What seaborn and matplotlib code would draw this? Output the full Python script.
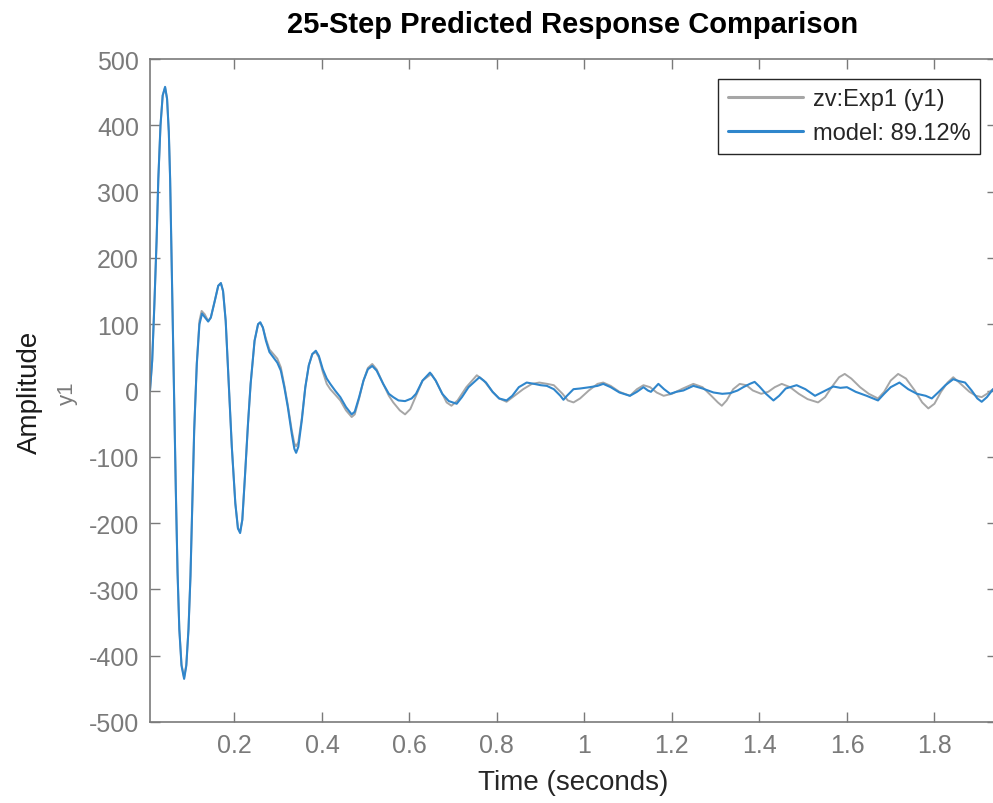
import matplotlib
matplotlib.use("Agg")
import matplotlib.pyplot as plt
import seaborn as sns
import pandas as pd

# valores (tiempo en s, amplitud)
zv_points = [
    (0.007, 0), (0.012, 45), (0.017, 130), (0.022, 225), (0.026, 319), (0.031, 400),
    (0.036, 445), (0.0415, 457), (0.046, 440), (0.050, 390), (0.053, 319), (0.058, 140),
    (0.062, 0), (0.066, -150), (0.070, -275), (0.074, -360), (0.079, -413), (0.085, -433),
    (0.090, -413), (0.095, -360), (0.0995, -280), (0.104, -160), (0.108, -60), (0.114, 42),
    (0.120, 105), (0.125, 120), (0.132, 115),
    (0.140, 105), (0.146, 110), (0.155, 135), (0.163, 158), (0.169, 162), (0.174, 150),
    (0.180, 105), (0.187, 10), (0.194, -85), (0.202, -170), (0.208, -208), (0.213, -213),
    (0.218, -195), (0.224, -130), (0.231, -50), (0.237, 10), (0.246, 75), (0.254, 100),
    (0.259, 102), (0.265, 95), (0.272, 78), (0.280, 62), (0.289, 55), (0.298, 48),
    (0.306, 35), (0.314, 8), (0.322, -22), (0.331, -60), (0.337, -80), (0.341, -84),
    (0.346, -78), (0.354, -42), (0.362, 5), (0.370, 38), (0.378, 55), (0.386, 58),
    (0.393, 50), (0.402, 28), (0.411, 10), (0.419, 2), (0.430, -6), (0.442, -15),
    (0.455, -30), (0.468, -40), (0.475, -36), (0.485, -12), (0.495, 15), (0.505, 34),
    (0.515, 40), (0.525, 32), (0.540, 10), (0.553, -8), (0.563, -18), (0.578, -30),
    (0.590, -36), (0.602, -28), (0.615, -8), (0.630, 15), (0.650, 25), (0.660, 15),
    (0.675, -5), (0.685, -18), (0.696, -23), (0.710, -15), (0.730, 5), (0.754, 23),
    (0.770, 15), (0.790, -2), (0.805, -12), (0.822, -17), (0.840, -8), (0.860, 2),
    (0.880, 10), (0.897, 12), (0.915, 10), (0.930, 8), (0.950, -5), (0.962, -15),
    (0.975, -18), (0.990, -12), (1.010, 0), (1.030, 10), (1.043, 12), (1.060, 7),
    (1.080, -2), (1.104, -8), (1.120, 2), (1.135, 8), (1.150, 5), (1.165, -3),
    (1.181, -8), (1.200, -5), (1.225, 3), (1.249, 10), (1.270, 5), (1.290, -8),
    (1.305, -18), (1.314, -23), (1.325, -15), (1.340, 2), (1.355, 10), (1.370, 8),
    (1.385, 0), (1.404, -5), (1.420, -2), (1.435, 5), (1.451, 10), (1.470, 5),
    (1.490, -5), (1.510, -13), (1.534, -18), (1.550, -10), (1.565, 5), (1.582, 20),
    (1.595, 25), (1.610, 18), (1.630, 5), (1.650, -5), (1.671, -12), (1.685, -2),
    (1.700, 15), (1.717, 25), (1.735, 18), (1.755, 0), (1.772, -18), (1.786, -27),
    (1.800, -20), (1.815, -2), (1.830, 12), (1.843, 20), (1.860, 10), (1.880, -2),
    (1.895, -8), (1.908, -10), (1.920, -5), (1.934, 2),
]

model_points = [
    (0.007, 0), (0.012, 45), (0.017, 130), (0.022, 225), (0.026, 319), (0.031, 400),
    (0.036, 445), (0.0415, 458), (0.046, 440), (0.050, 390), (0.053, 319), (0.058, 140),
    (0.062, 0), (0.066, -150), (0.070, -275), (0.074, -360), (0.079, -415), (0.085, -435),
    (0.090, -415), (0.095, -360), (0.0995, -280), (0.104, -160), (0.108, -60), (0.114, 40),
    (0.120, 100), (0.126, 116), (0.133, 110),
    (0.140, 104), (0.146, 110), (0.155, 135), (0.163, 158), (0.169, 162), (0.174, 150),
    (0.180, 105), (0.187, 10), (0.194, -85), (0.202, -170), (0.208, -208), (0.213, -215),
    (0.218, -195), (0.224, -130), (0.231, -50), (0.237, 10), (0.246, 75), (0.254, 100),
    (0.259, 103), (0.265, 95), (0.272, 75), (0.280, 58), (0.289, 50), (0.298, 42),
    (0.306, 30), (0.314, 5), (0.322, -25), (0.331, -65), (0.337, -88), (0.341, -94),
    (0.346, -85), (0.354, -45), (0.362, 5), (0.370, 38), (0.378, 55), (0.386, 60),
    (0.393, 52), (0.402, 32), (0.411, 18), (0.419, 10), (0.430, 0), (0.442, -10),
    (0.455, -25), (0.468, -36), (0.475, -32), (0.485, -10), (0.495, 15), (0.505, 32),
    (0.515, 37), (0.525, 30), (0.540, 10), (0.553, -5), (0.563, -10), (0.575, -15),
    (0.590, -16), (0.605, -12), (0.615, -5), (0.630, 15), (0.647, 27), (0.660, 15),
    (0.675, -5), (0.690, -16), (0.708, -20), (0.720, -10), (0.735, 5), (0.760, 20),
    (0.775, 12), (0.790, -2), (0.805, -12), (0.822, -15), (0.835, -8), (0.850, 5),
    (0.868, 12), (0.885, 10), (0.900, 8), (0.914, 7), (0.930, 2), (0.945, -8),
    (0.952, -14), (0.960, -8), (0.975, 2), (0.990, 3), (1.012, 5), (1.030, 7),
    (1.043, 10), (1.060, 5), (1.080, -3), (1.104, -8), (1.120, -2), (1.135, 5),
    (1.145, 0), (1.152, -2), (1.169, 10), (1.182, 2), (1.196, -5), (1.210, -2),
    (1.226, 0), (1.249, 7), (1.270, 3), (1.295, -3), (1.315, -5), (1.333, -4),
    (1.350, 0), (1.363, 5), (1.378, 10), (1.389, 13), (1.400, 6), (1.415, -5),
    (1.432, -15), (1.445, -8), (1.460, 3), (1.485, 8), (1.505, 2), (1.527, -8),
    (1.545, -2), (1.569, 6), (1.585, 4), (1.600, 5), (1.620, -2), (1.645, -8),
    (1.671, -15), (1.685, -5), (1.700, 5), (1.720, 12), (1.740, 2), (1.760, -5),
    (1.780, -8), (1.794, -12), (1.810, -2), (1.825, 8), (1.843, 17), (1.857, 14),
    (1.870, 12), (1.885, 0), (1.898, -12), (1.908, -17), (1.920, -10), (1.934, 2),
]

series_labels = ["zv:Exp1 (y1)", "model: 89.12%"]
x_ticks = [0.2, 0.4, 0.6, 0.8, 1.0, 1.2, 1.4, 1.6, 1.8]
x_tick_labels = ["0.2", "0.4", "0.6", "0.8", "1", "1.2", "1.4", "1.6", "1.8"]
y_ticks = [-500, -400, -300, -200, -100, 0, 100, 200, 300, 400, 500]

df_zv = pd.DataFrame(zv_points, columns=["t", "y"])
df_model = pd.DataFrame(model_points, columns=["t", "y"])

sns.set_theme(style="white")
plt.rcParams["font.family"] = ["Liberation Sans", "DejaVu Sans"]
plt.rcParams["axes.unicode_minus"] = False

gris = "#7a7a7a"

fig = plt.figure(figsize=(9.93, 8.04), dpi=100)
ax = fig.add_axes([150 / 993, 1 - 723 / 804, 847 / 993, 663 / 804])

sns.lineplot(data=df_zv, x="t", y="y", ax=ax, color="#a6a6a6", linewidth=1.4,
             label=series_labels[0], sort=False)
sns.lineplot(data=df_model, x="t", y="y", ax=ax, color="#2f86cc", linewidth=1.5,
             label=series_labels[1], sort=False)

ax.set_xlim(0.007, 1.943)
ax.set_ylim(-500, 500)
ax.set_xticks(x_ticks)
ax.set_xticklabels(x_tick_labels)
ax.set_yticks(y_ticks)
ax.tick_params(direction="in", length=7, width=1, colors=gris, labelsize=18,
               top=True, right=True, bottom=True, left=True, pad=8)
for lado in ax.spines.values():
    lado.set_visible(True)
    lado.set_color(gris)
    lado.set_linewidth(1.2)

ax.set_xlabel("Time (seconds)", fontsize=20, color="#262626")
ax.xaxis.set_label_coords(0.5, (723 - 783) / 663)
ax.xaxis.label.set_va("center")
ax.set_ylabel("")
fig.text(30 / 993, 1 - 392 / 804, "Amplitude", rotation=90, fontsize=20,
         color="#1a1a1a", ha="center", va="center")
fig.text(67 / 993, 1 - 393 / 804, "y1", rotation=90, fontsize=16,
         color=gris, ha="center", va="center")

fig.text(573 / 993, 1 - 25 / 804, "25-Step Predicted Response Comparison",
         fontsize=21, fontweight="bold", color="black", ha="center", va="center")

leg = ax.legend(loc="upper right", bbox_to_anchor=(980 / 993, 1 - 80 / 804),
                bbox_transform=fig.transFigure, borderaxespad=0, fontsize=17,
                frameon=True, fancybox=False, framealpha=1, handlelength=3.2,
                handletextpad=0.4, borderpad=0.4, labelspacing=0.5)
leg.get_frame().set_edgecolor("#262626")
leg.get_frame().set_linewidth(1.0)
for linea in leg.get_lines():
    linea.set_linewidth(2.2)

fig.savefig("out.png", dpi=100)
